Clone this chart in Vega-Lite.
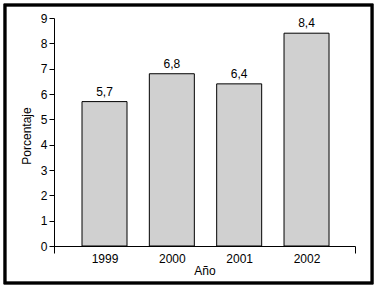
{
  "$schema": "https://vega.github.io/schema/vega-lite/v6.json",
  "autosize": {"type": "none"},
  "padding": {"left": 54, "top": 18, "right": 22, "bottom": 37},
  "width": 301,
  "height": 235,
  "background": "white",
  "config": {
    "view": {"stroke": null},
    "font": "Liberation Sans",
    "locale": {"number": {"decimal": ",", "thousands": ".", "grouping": [3], "currency": ["", " €"]}},
    "axis": {"labelColor": "black", "titleColor": "black", "domainColor": "black", "tickColor": "black", "labelFontSize": 12, "titleFontSize": 12, "titleFontWeight": "normal", "grid": false}
  },
  "data": {"values": [
    {"year": 1999, "pct": 5.7},
    {"year": 2000, "pct": 6.8},
    {"year": 2001, "pct": 6.4},
    {"year": 2002, "pct": 8.4}
  ]},
  "encoding": {
    "x": {"field": "year", "type": "quantitative", "scale": {"domain": [1998.25, 2002.72], "nice": false, "zero": false, "padding": 0},
      "axis": {"title": "Año", "values": [1999, 2000, 2001, 2002, 2002.72], "format": "d", "offset": -7, "tickSize": 7,
        "tickOpacity": {"expr": "datum.value > 2002.5 ? 1 : 0"},
        "labelExpr": "datum.value > 2002.5 ? '' : datum.label", "labelPadding": 0, "titlePadding": 1, "labelFlush": false}},
    "y": {"field": "pct", "type": "quantitative", "scale": {"domain": [-0.276, 9], "nice": false, "zero": false, "padding": 0},
      "axis": {"title": "Porcentaje", "values": [0, 1, 2, 3, 4, 5, 6, 7, 8, 9], "tickSize": 5, "labelPadding": 2, "titlePadding": 7}}
  },
  "layer": [
    {
      "mark": {"type": "bar", "width": 45, "fill": "#d0d0d0", "stroke": "black", "strokeWidth": 1},
      "encoding": {"y2": {"datum": 0}}
    },
    {
      "mark": {"type": "text", "baseline": "bottom", "dy": -3, "fontSize": 12, "color": "black"},
      "encoding": {"text": {"field": "pct", "type": "quantitative", "format": ".1f"}}
    },
    {
      "mark": {"type": "rect", "fill": null, "stroke": "black", "strokeWidth": 2.5, "clip": false},
      "encoding": {
        "x": {"datum": 1997.522},
        "x2": {"datum": 2002.973},
        "y": {"datum": 9.513},
        "y2": {"datum": -1.461}
      }
    }
  ]
}
